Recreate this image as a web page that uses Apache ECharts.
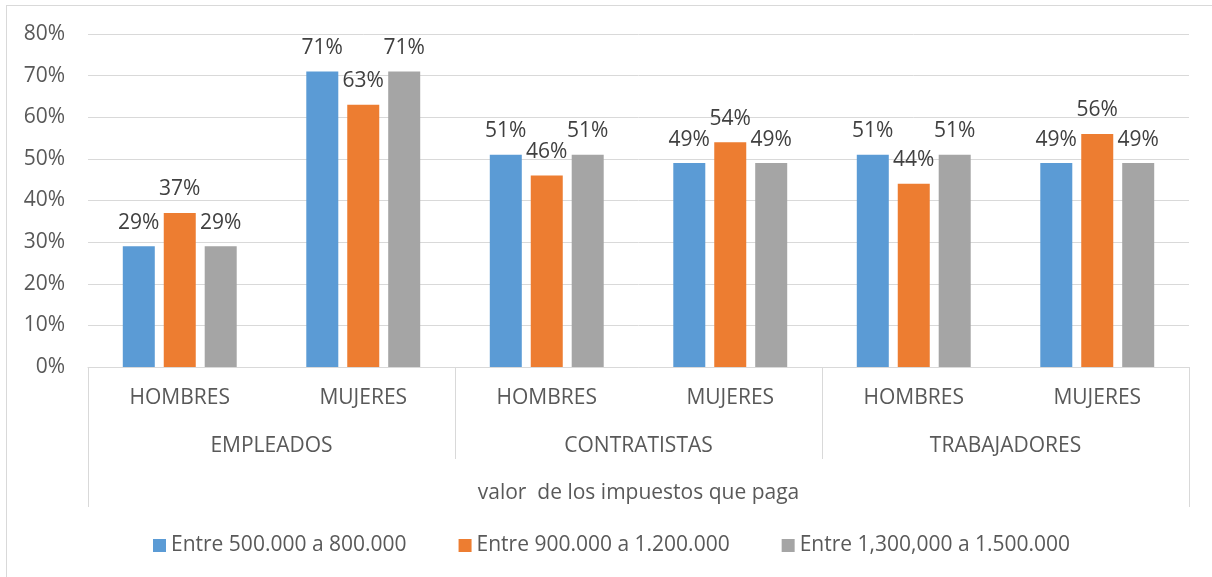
<!DOCTYPE html>
<html>
<head>
<meta charset="utf-8">
<script src="https://cdn.jsdelivr.net/npm/echarts@6/dist/echarts.min.js"></script>
<style>
  html, body { margin: 0; padding: 0; background: #fff; }
  #chart { width: 1212px; height: 577px; position: relative; }
  #frame { position: absolute; left: 6px; top: 5px; width: 1300px; height: 700px; border: 1px solid #d9d9d9; pointer-events: none; }
</style>
</head>
<body>
<div id="chart"></div>
<div id="frame"></div>
<script>
// categorias
const subCats = ["HOMBRES", "MUJERES", "HOMBRES", "MUJERES", "HOMBRES", "MUJERES"];
const groups = ["EMPLEADOS", "CONTRATISTAS", "TRABAJADORES"];
const axisTitle = ["valor  de los impuestos que paga"];
const yTicks = [0, 80, 10]; // min, max, interval

// series (%)
const seriesNames = ["Entre 500.000 a 800.000", "Entre 900.000 a 1.200.000", "Entre 1,300,000 a 1.500.000"];
const rango1 = [29, 71, 51, 49, 51, 49];
const rango2 = [37, 63, 46, 54, 44, 56];
const rango3 = [29, 71, 51, 49, 51, 49];
const colors = ["#5B9BD5", "#ED7D31", "#A5A5A5"];

const font = "'Open Sans', sans-serif";
const txt = "#595959";
const fs = 21;

let myChart = echarts.init(document.getElementById("chart"));

function barSeries(name, data, color) {
  return {
    name: name,
    type: "bar",
    data: data,
    barWidth: 32,
    barGap: "28%",
    itemStyle: { color: color },
    label: {
      show: true,
      position: "top",
      distance: 13,
      formatter: "{c}%",
      fontFamily: font,
      fontSize: fs,
      color: "#404040",
    },
  };
}

let option = {
  animation: false,
  textStyle: { fontFamily: font },
  grid: { left: 88, right: 23, top: 34, bottom: 210 },
  legend: {
    data: seriesNames,
    left: 148,
    top: 530,
    icon: "rect",
    itemWidth: 13,
    itemHeight: 13,
    itemGap: 52,
    textStyle: { fontFamily: font, fontSize: fs, color: txt },
  },
  xAxis: [
    {
      type: "category",
      position: "bottom",
      data: subCats,
      axisLine: { lineStyle: { color: "#d9d9d9", width: 1 } },
      axisTick: { show: false },
      axisLabel: { margin: 21, fontFamily: font, fontSize: fs, color: txt, interval: 0 },
    },
    {
      type: "category",
      position: "bottom",
      data: groups,
      axisLine: { show: false },
      axisTick: { show: true, length: 92, lineStyle: { color: "#d9d9d9" } },
      axisLabel: { margin: 69, fontFamily: font, fontSize: fs, color: txt, interval: 0 },
    },
    {
      type: "category",
      position: "bottom",
      data: axisTitle,
      axisLine: { show: false },
      axisTick: { show: true, length: 140, lineStyle: { color: "#d9d9d9" } },
      axisLabel: { margin: 116, fontFamily: font, fontSize: fs, color: txt },
    },
  ],
  yAxis: {
    type: "value",
    min: yTicks[0],
    max: yTicks[1],
    interval: yTicks[2],
    axisLine: { show: false },
    axisTick: { show: false },
    axisLabel: { formatter: "{value}%", margin: 23, fontFamily: font, fontSize: fs, color: txt },
    splitLine: { lineStyle: { color: "#d9d9d9" } },
  },
  series: [
    barSeries(seriesNames[0], rango1, colors[0]),
    barSeries(seriesNames[1], rango2, colors[1]),
    barSeries(seriesNames[2], rango3, colors[2]),
  ],
};
option && myChart.setOption(option);
</script>
</body>
</html>
